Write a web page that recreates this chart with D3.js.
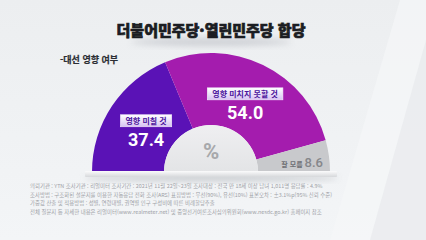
<!DOCTYPE html>
<html lang="ko">
<head>
<meta charset="utf-8">
<title>더불어민주당·열린민주당 합당</title>
<script src="https://cdn.jsdelivr.net/npm/d3@7"></script>
<style>
  html, body { margin: 0; padding: 0; }
  body { width: 426px; height: 240px; overflow: hidden; background: #eef0f2; }
  svg { display: block; font-family: "Noto Sans CJK KR", "Noto Sans", sans-serif; }
</style>
</head>
<body>
<div id="chart"></div>
<script>
// data
var categories = ["영향 미칠 것", "영향 미치지 못할 것", "잘 모름"];
var values = [37.4, 54.0, 8.6];
var colors = ["#5a12b6", "#a41cae", "#c8c9cc"];

var title = "더불어민주당·열린민주당 합당";
var subtitle = "-대선 영향 여부";
var notes = [
  "의뢰기관 : YTN     조사기관 : 리얼미터     조사기간 : 2021년 11월 22일~23일     조사대상 : 전국 만 18세 이상 남녀 1,011명     응답률 : 4.9%",
  "조사방법 : 구조화된 설문지를 이용한 자동응답 전화 조사(ARS)     표집방법 : 무선(90%), 유선(10%)     표본오차 : ±3.1%p(95% 신뢰 수준)",
  "가중값 산출 및 적용방법 : 성별, 연령대별, 권역별 인구 구성비에 따른 비례할당추출",
  "전체 질문지 등 자세한 내용은 리얼미터(www.realmeter.net) 및 중앙선거여론조사심의위원회(www.nesdc.go.kr) 홈페이지 참조"
];

var width = 426, height = 240;
var cx = 211, cy = 172, rOut = 119, rIn = 47;

var svg = d3.select("#chart").append("svg")
  .attr("width", width)
  .attr("height", height);

var defs = svg.append("defs");

var bg = defs.append("linearGradient").attr("id", "bg")
  .attr("x1", 0).attr("y1", 0).attr("x2", 0).attr("y2", 1);
bg.append("stop").attr("offset", "0%").attr("stop-color", "#eceef0");
bg.append("stop").attr("offset", "100%").attr("stop-color", "#f3f5f7");

var box = defs.append("linearGradient").attr("id", "box")
  .attr("x1", 0).attr("y1", 0).attr("x2", 0).attr("y2", 1);
box.append("stop").attr("offset", "0%").attr("stop-color", "#ffffff");
box.append("stop").attr("offset", "100%").attr("stop-color", "#d6c2f2");

var hub = defs.append("linearGradient").attr("id", "hub")
  .attr("x1", 0).attr("y1", 0).attr("x2", 0).attr("y2", 1);
hub.append("stop").attr("offset", "0%").attr("stop-color", "#efeff1");
hub.append("stop").attr("offset", "100%").attr("stop-color", "#e3e4e6");

var shelf = defs.append("linearGradient").attr("id", "shelf")
  .attr("x1", 0).attr("y1", 0).attr("x2", 0).attr("y2", 1);
shelf.append("stop").attr("offset", "0%").attr("stop-color", "#fbfbfc");
shelf.append("stop").attr("offset", "100%").attr("stop-color", "#d6d8db");

defs.append("filter").attr("id", "blur")
  .attr("x", "-50%").attr("y", "-50%").attr("width", "200%").attr("height", "200%")
  .append("feGaussianBlur").attr("stdDeviation", 3);

// background with soft diagonal strokes on the right
svg.append("rect").attr("width", width).attr("height", height).attr("fill", "url(#bg)");
svg.append("path")
  .attr("d", "M330,240 L400,0 L426,0 L426,240 Z")
  .attr("fill", "#f5f6f8").attr("opacity", 0.7);
svg.append("path")
  .attr("d", "M370,240 L426,40 L426,240 Z")
  .attr("fill", "#e6e8eb").attr("opacity", 0.6);

// title + shadow
svg.append("ellipse")
  .attr("cx", 211).attr("cy", 42).attr("rx", 80).attr("ry", 4)
  .attr("fill", "#b9bcc2").attr("opacity", 0.6)
  .attr("filter", "url(#blur)");
svg.append("text")
  .attr("x", 211).attr("y", 36)
  .attr("text-anchor", "middle")
  .attr("font-size", 15).attr("font-weight", 900)
  .attr("fill", "#1b1d22")
  .attr("stroke", "#1b1d22").attr("stroke-width", 0.7)
  .text(title);

svg.append("text")
  .attr("x", 60).attr("y", 63)
  .attr("font-size", 9).attr("font-weight", 700)
  .attr("fill", "#2b2d33")
  .attr("stroke", "#2b2d33").attr("stroke-width", 0.2)
  .text(subtitle);

// semi donut
var pie = d3.pie().sort(null)
  .startAngle(-Math.PI / 2).endAngle(Math.PI / 2);
var arcs = pie(values);

var arc = d3.arc().innerRadius(rIn).outerRadius(rOut);
var labelArc = d3.arc().innerRadius(78).outerRadius(78);
var smallArc = d3.arc().innerRadius(92).outerRadius(92);

var g = svg.append("g").attr("transform", "translate(" + cx + "," + cy + ")");

// shadow under the gauge
g.append("ellipse")
  .attr("cx", 0).attr("cy", 6).attr("rx", 128).attr("ry", 3)
  .attr("fill", "#a9adb3").attr("opacity", 0.6)
  .attr("filter", "url(#blur)");

g.selectAll("path.slice")
  .data(arcs)
  .enter().append("path")
  .attr("class", "slice")
  .attr("d", arc)
  .attr("fill", function(d, i) { return colors[i]; });

// hub
g.append("path")
  .attr("d", d3.arc().innerRadius(0).outerRadius(rIn)
    .startAngle(-Math.PI / 2).endAngle(Math.PI / 2)())
  .attr("fill", "url(#hub)");
g.append("text")
  .attr("x", 0).attr("y", -13)
  .attr("text-anchor", "middle")
  .attr("font-size", 22).attr("font-weight", 700)
  .attr("font-family", "Roboto, sans-serif")
  .attr("fill", "#a7a8ab")
  .text("%");

// shelf
g.append("rect")
  .attr("x", -126).attr("y", -1).attr("width", 252).attr("height", 6)
  .attr("rx", 1)
  .attr("fill", "url(#shelf)");

// big labels for the two main slices
arcs.slice(0, 2).forEach(function(d, i) {
  var c = labelArc.centroid(d);
  var lg = g.append("g").attr("transform", "translate(" + c[0] + "," + c[1] + ")");
  var t = lg.append("text")
    .attr("x", 0).attr("y", -5)
    .attr("text-anchor", "middle")
    .attr("font-size", 8).attr("font-weight", 700)
    .attr("fill", "#4b149c")
    .text(categories[i]);
  var bb = t.node().getBBox();
  lg.insert("rect", "text")
    .attr("x", bb.x - 5).attr("y", -14)
    .attr("width", bb.width + 10).attr("height", 12)
    .attr("fill", "url(#box)")
    .attr("stroke", "#f4eefc").attr("stroke-width", 0.6);
  lg.append("text")
    .attr("x", 0).attr("y", 17)
    .attr("text-anchor", "middle")
    .attr("font-size", 18).attr("font-weight", 700)
    .attr("font-family", "Roboto, sans-serif")
    .attr("fill", "#ffffff")
    .text(values[i].toFixed(1));
});

// small slice label
var c3 = smallArc.centroid(arcs[2]);
var sl = g.append("text")
  .attr("x", c3[0]).attr("y", c3[1] + 7)
  .attr("text-anchor", "middle");
sl.append("tspan")
  .attr("font-size", 7).attr("font-weight", 700)
  .attr("fill", "#6f7075")
  .text(categories[2] + " ");
sl.append("tspan")
  .attr("font-size", 13).attr("font-weight", 500)
  .attr("font-family", "Roboto, sans-serif")
  .attr("fill", "#85868a")
  .text(values[2].toFixed(1));

// footnotes
svg.append("g").selectAll("text")
  .data(notes)
  .enter().append("text")
  .attr("x", 30)
  .attr("y", function(d, i) { return 188 + i * 8.7; })
  .attr("font-size", 5.4)
  .attr("fill", "#a0a2a7")
  .text(function(d) { return d; });
</script>
</body>
</html>
